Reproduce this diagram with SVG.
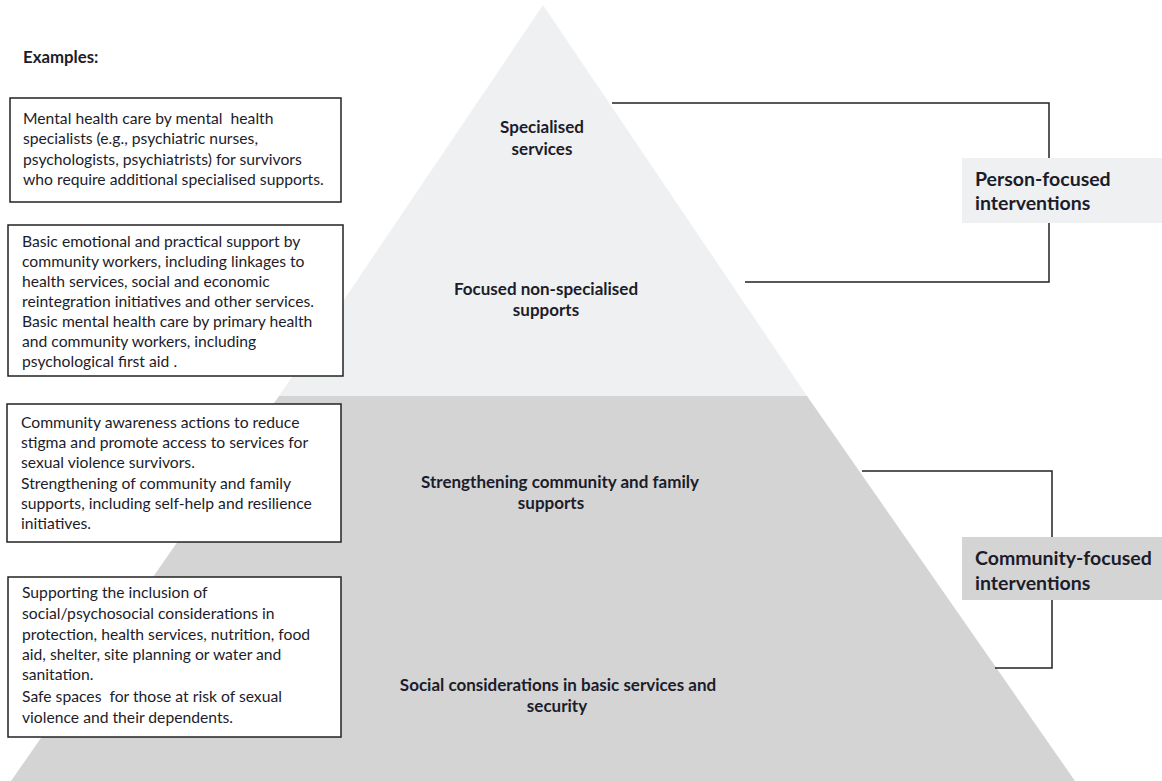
<svg xmlns="http://www.w3.org/2000/svg" width="1162" height="781" viewBox="0 0 1162 781">
<style>
text{font-family:Lato,"Open Sans","Liberation Sans",sans-serif;fill:#1c1c2a}
.ex{font-size:15.7px;white-space:pre}
.lbl{font-size:17px;font-weight:bold;text-anchor:middle}
.side{font-size:19.5px;font-weight:bold}
.box{fill:#fff;stroke:#222;stroke-width:1.5}
.ln{stroke:#222;stroke-width:1.5;fill:none}
</style>
<rect width="1162" height="781" fill="#fff"/>
<g id="pyramid">
<polygon points="543,5 279,396 807,396" fill="#eef0f2"/>
<polygon points="279,396 807,396 1075,781 11,781" fill="#d4d4d4"/>
</g>
<g id="connectors">
<polyline class="ln" points="612,103 1049,103 1049,158"/>
<polyline class="ln" points="1049,223 1049,282 745,282"/>
<polyline class="ln" points="862,471 1052,471 1052,537"/>
<polyline class="ln" points="1052,600 1052,668 995,668"/>
</g>
<g id="tier-specialised">
<text class="lbl" x="542" y="133">Specialised</text>
<text class="lbl" x="542" y="155">services</text>
</g>
<g id="tier-focused">
<text class="lbl" x="546" y="295">Focused non-specialised</text>
<text class="lbl" x="546" y="316">supports</text>
</g>
<g id="tier-community">
<text class="lbl" x="560" y="488">Strengthening community and family</text>
<text class="lbl" x="551" y="509">supports</text>
</g>
<g id="tier-basic">
<text class="lbl" x="558" y="691">Social considerations in basic services and</text>
<text class="lbl" x="557" y="712">security</text>
</g>
<g id="label-person">
<rect x="962" y="158" width="200" height="65" fill="#eef0f2"/>
<text class="side" x="975" y="186">Person-focused</text>
<text class="side" x="975" y="210">interventions</text>
</g>
<g id="label-community">
<rect x="962" y="537" width="200" height="63" fill="#d4d4d4"/>
<text class="side" x="975" y="565">Community-focused</text>
<text class="side" x="975" y="590">interventions</text>
</g>
<g id="examples-title">
<text x="23" y="63" style="font-size:16.8px;font-weight:bold">Examples:</text>
</g>
<g id="example-1">
<rect class="box" x="10" y="98" width="331" height="104"/>
<text class="ex" x="23" y="124" xml:space="preserve">Mental health care by mental  health</text>
<text class="ex" x="23" y="144">specialists (e.g., psychiatric nurses,</text>
<text class="ex" x="23" y="165">psychologists, psychiatrists) for survivors</text>
<text class="ex" x="23" y="185">who require additional specialised supports.</text>
</g>
<g id="example-2">
<rect class="box" x="8" y="225" width="335" height="151"/>
<text class="ex" x="22" y="247">Basic emotional and practical support by</text>
<text class="ex" x="22" y="267">community workers, including linkages to</text>
<text class="ex" x="22" y="287">health services, social and economic</text>
<text class="ex" x="22" y="307">reintegration initiatives and other services.</text>
<text class="ex" x="22" y="327">Basic mental health care by primary health</text>
<text class="ex" x="22" y="347">and community workers, including</text>
<text class="ex" x="22" y="367">psychological first aid .</text>
</g>
<g id="example-3">
<rect class="box" x="7" y="404" width="334" height="138"/>
<text class="ex" x="21" y="428">Community awareness actions to reduce</text>
<text class="ex" x="21" y="448">stigma and promote access to services for</text>
<text class="ex" x="21" y="468">sexual violence survivors.</text>
<text class="ex" x="21" y="489">Strengthening of community and family</text>
<text class="ex" x="21" y="509">supports, including self-help and resilience</text>
<text class="ex" x="21" y="529">initiatives.</text>
</g>
<g id="example-4">
<rect class="box" x="8" y="577" width="333" height="160"/>
<text class="ex" x="22" y="598">Supporting the inclusion of</text>
<text class="ex" x="22" y="619">social/psychosocial considerations in</text>
<text class="ex" x="22" y="640">protection, health services, nutrition, food</text>
<text class="ex" x="22" y="660">aid, shelter, site planning or water and</text>
<text class="ex" x="22" y="680">sanitation.</text>
<text class="ex" x="22" y="702" xml:space="preserve">Safe spaces  for those at risk of sexual</text>
<text class="ex" x="22" y="723">violence and their dependents.</text>
</g>
</svg>
